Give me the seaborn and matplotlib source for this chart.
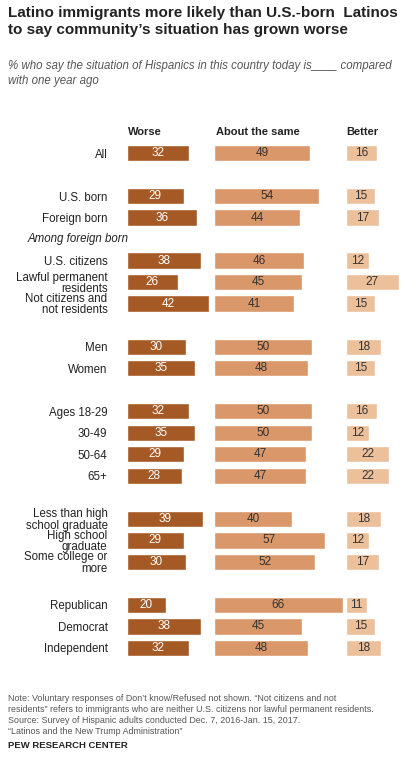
import matplotlib
matplotlib.use("Agg")
import matplotlib.pyplot as plt
import seaborn as sns
import pandas as pd

groups = ["All", "U.S. born", "Foreign born", "U.S. citizens", "Lawful permanent\nresidents",
          "Not citizens and\nnot residents", "Men", "Women", "Ages 18-29", "30-49", "50-64", "65+",
          "Less than high\nschool graduate", "High school\ngraduate", "Some college or\nmore",
          "Republican", "Democrat", "Independent"]
worse = [32, 29, 36, 38, 26, 42, 30, 35, 32, 35, 29, 28, 39, 29, 30, 20, 38, 32]
same = [49, 54, 44, 46, 45, 41, 50, 48, 50, 50, 47, 47, 40, 57, 52, 66, 45, 48]
better = [16, 15, 17, 12, 27, 15, 18, 15, 16, 12, 22, 22, 18, 12, 17, 11, 15, 18]
headers = ["Worse", "About the same", "Better"]
colors = ["#A55A26", "#D9976A", "#EDC09C"]

# slot order with spacer rows
order = ["All", "sp1", "U.S. born", "Foreign born", "among", "U.S. citizens",
         "Lawful permanent\nresidents", "Not citizens and\nnot residents", "sp2", "Men", "Women", "sp3",
         "Ages 18-29", "30-49", "50-64", "65+", "sp4", "Less than high\nschool graduate",
         "High school\ngraduate", "Some college or\nmore", "sp5", "Republican", "Democrat", "Independent"]

df = pd.DataFrame({"group": groups, "Worse": worse, "About the same": same, "Better": better})

sns.set_style("white")
plt.rcParams["font.family"] = ["Liberation Sans", "DejaVu Sans"]

W, H = 420, 765
fig = plt.figure(figsize=(W / 100, H / 100), dpi=100)
scale = 1.95
top_px, bot_px = 142.25, 658.75
cols = [(127, 85), (214, 130), (346, 70)]
axes = []
for i, (col, (left, width)) in enumerate(zip(headers, cols)):
    ax = fig.add_axes([left / W, 1 - bot_px / H, width / W, (bot_px - top_px) / H])
    sns.barplot(data=df, y="group", x=col, order=order, color=colors[i], width=0.76,
                saturation=1, ax=ax, orient="h")
    ax.set_xlim(0, width / scale)
    ax.set_ylim(len(order) - 0.5, -0.5)
    ax.set_xlabel("")
    ax.set_ylabel("")
    ax.set_xticks([])
    for s in ax.spines.values():
        s.set_visible(False)
    tc = "white" if i == 0 else "#333333"
    for g, v in zip(df["group"], df[col]):
        y = order.index(g)
        ax.text(v / 2, y, str(v), ha="center", va="center", color=tc, fontsize=8.5)
    axes.append(ax)

axes[0].set_yticks(range(len(order)))
axes[0].set_yticklabels([o if (o in groups) else "" for o in order], fontsize=8.3, color="#222222",
                        ha="right", linespacing=0.92)
axes[0].tick_params(axis="y", length=0, pad=14)
for ax in axes[1:]:
    ax.set_yticks([])

# Among foreign born
y_among = (top_px + (4 + 0.5) * (bot_px - top_px) / len(order)) / H
fig.text(28 / W, 1 - y_among, "Among foreign born", fontsize=8.3, style="italic", va="center", color="#222222")

for hx, h in zip([145, 258, 362], headers):
    fig.text(hx / W, 1 - 132 / H, h, ha="center", va="center", fontsize=8, fontweight="bold", color="#222222")

fig.text(8 / W, 1 - 6 / H, "Latino immigrants more likely than U.S.-born  Latinos\nto say community’s situation has grown worse",
         fontsize=11, fontweight="bold", va="top", color="#222222", linespacing=1.25)
fig.text(8 / W, 1 - 60 / H, "% who say the situation of Hispanics in this country today is____ compared\nwith one year ago",
         fontsize=8.3, style="italic", va="top", color="#555555", linespacing=1.3)
fig.text(8 / W, 1 - 694 / H,
         "Note: Voluntary responses of Don’t know/Refused not shown. “Not citizens and not\n"
         "residents” refers to immigrants who are neither U.S. citizens nor lawful permanent residents.\n"
         "Source: Survey of Hispanic adults conducted Dec. 7, 2016-Jan. 15, 2017.\n"
         "“Latinos and the New Trump Administration”",
         fontsize=6.4, va="top", color="#555555", linespacing=1.3)
fig.text(8 / W, 1 - 745 / H, "PEW RESEARCH CENTER", fontsize=6.8, fontweight="bold", va="center", color="#222222")

fig.savefig("out.png", dpi=100)
